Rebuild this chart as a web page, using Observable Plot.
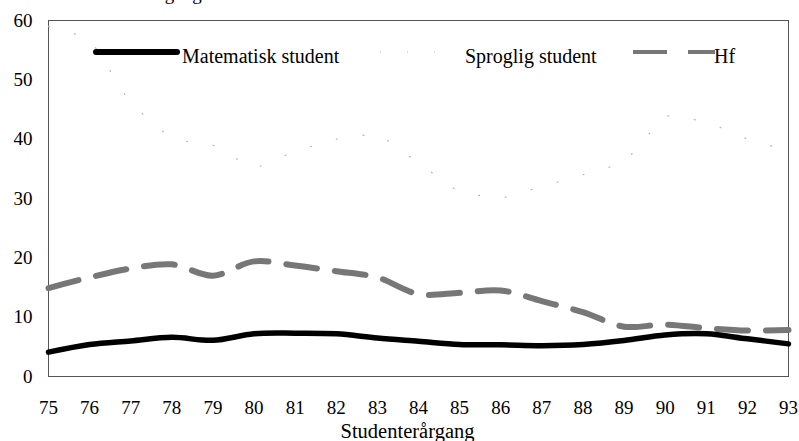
<!DOCTYPE html>
<html>
<head>
<meta charset="utf-8">
<script src="https://cdn.jsdelivr.net/npm/d3@7"></script>
<script src="https://cdn.jsdelivr.net/npm/@observablehq/plot@0.6"></script>
<style>
  html, body { margin: 0; padding: 0; background: white; }
  #chart { position: relative; width: 799px; height: 441px; overflow: hidden; }
</style>
</head>
<body>
<div id="chart"></div>
<script>
const years = [75,76,77,78,79,80,81,82,83,84,85,86,87,88,89,90,91,92,93];
const matematisk = [4.1,5.4,6.0,6.6,6.1,7.2,7.3,7.2,6.5,5.95,5.4,5.35,5.2,5.4,6.05,7.0,7.2,6.35,5.5];
const hf = [14.9,16.7,18.2,18.9,17.0,19.4,18.7,17.75,16.7,13.9,14.1,14.5,12.7,10.85,8.4,8.75,8.15,7.75,7.85];
const sproglig = [59,57,46,40,39,35,38,40,41,36,31,30,32,34,36,44,43,40,38];
const yTicks = [0,10,20,30,40,50,60];
const seriesNames = ["Matematisk student", "Sproglig student", "Hf"];
const titleText = "Procent af studenterårgang";
const xLabel = "Studenterårgang";

const toRows = vals => years.map((yr, i) => ({year: yr, value: vals[i]}));
const matRows = toRows(matematisk);
const hfRows = toRows(hf);
const sprRows = toRows(sproglig);

const font = "'Liberation Serif', 'Times New Roman', serif";

const plot = Plot.plot({
  width: 799,
  height: 441,
  marginLeft: 48,
  marginRight: 11,
  marginTop: 20,
  marginBottom: 65,
  style: {fontFamily: font, fontSize: "19px", background: "white", color: "black"},
  x: {domain: [75, 93]},
  y: {domain: [0, 60]},
  marks: [
    Plot.axisX({ticks: years, tickSize: 0, tickPadding: 24, tickFormat: d => String(d), label: null, fontSize: 19}),
    Plot.axisY({ticks: yTicks, tickSize: 0, tickPadding: 16, tickFormat: d => String(d), label: null, fontSize: 19}),
    Plot.frame({stroke: "#555", strokeWidth: 1}),
    Plot.line(sprRows, {x: "year", y: "value", stroke: "#b5b5b5", strokeWidth: 1.2, strokeDasharray: "1,26"}),
    Plot.line(hfRows, {x: "year", y: "value", stroke: "#777", strokeWidth: 6, strokeDasharray: "31,18", curve: "catmull-rom"}),
    Plot.line(matRows, {x: "year", y: "value", stroke: "black", strokeWidth: 5.5, curve: "catmull-rom", strokeLinecap: "round"}),
    Plot.text([titleText], {frameAnchor: "top-left", textAnchor: "start", lineAnchor: "bottom", dx: -50, dy: -21, fontSize: 19}),
    Plot.text([xLabel], {frameAnchor: "bottom", lineAnchor: "bottom", dx: -11, dy: 61, fontSize: 20.5})
  ]
});
document.getElementById("chart").appendChild(plot);

// legend inside plot area
const svg = d3.select(plot);
const lg = svg.append("g").attr("font-family", font).attr("font-size", 20).attr("text-anchor", "start");
lg.append("line").attr("x1", 96).attr("x2", 177).attr("y1", 52).attr("y2", 52)
  .attr("stroke", "black").attr("stroke-width", 6).attr("stroke-linecap", "round");
lg.append("text").attr("x", 182).attr("y", 63).text(seriesNames[0]);
lg.append("line").attr("x1", 380).attr("x2", 458).attr("y1", 52).attr("y2", 52)
  .attr("stroke", "#b5b5b5").attr("stroke-width", 1.2).attr("stroke-dasharray", "1,26");
lg.append("text").attr("x", 465).attr("y", 63).text(seriesNames[1]);
lg.append("line").attr("x1", 633).attr("x2", 715).attr("y1", 52).attr("y2", 52)
  .attr("stroke", "#777").attr("stroke-width", 4).attr("stroke-dasharray", "34,21");
lg.append("text").attr("x", 714).attr("y", 63).text(seriesNames[2]);
</script>
</body>
</html>
